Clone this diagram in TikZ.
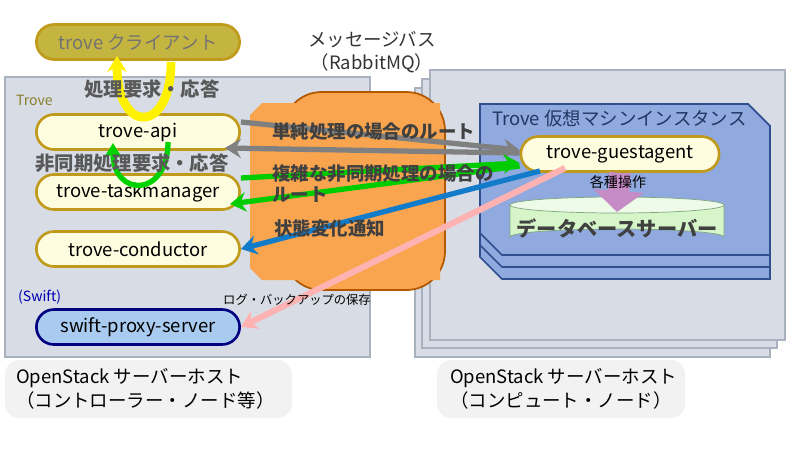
\documentclass[tikz,border=0pt]{standalone}
\usepackage{fontspec}
\setmainfont{Noto Sans CJK JP}
\usetikzlibrary{shapes.misc, arrows.meta, calc}
\definecolor{hostgray}{HTML}{D7DCE5}
\definecolor{hostline}{HTML}{A9B1BF}
\definecolor{procfill}{HTML}{FEFDE0}
\definecolor{procline}{HTML}{C09A1A}
\definecolor{olive}{HTML}{C4B440}
\definecolor{busorange}{HTML}{F9A54F}
\definecolor{vmblue}{HTML}{90AADF}
\definecolor{vmline}{HTML}{2F4F8F}
\definecolor{dbgreen}{HTML}{D6F5C8}
\definecolor{swiftblue}{HTML}{A9CBF0}
\tikzset{
  proc/.style={rounded rectangle, draw=procline, line width=1.5pt, fill=procfill,
    minimum width=4.3cm, minimum height=0.7cm, font=\fontsize{10.5}{12}\selectfont, text=black},
  route/.style={font=\bfseries\fontsize{10.5}{12}\selectfont, text=black!75, anchor=west},
  flow/.style={line width=3pt, -{Stealth[length=9pt,width=11pt]}},
  host/.style={fill=hostgray, draw=hostline, line width=1pt},
  vm/.style={fill=vmblue, draw=vmline, line width=1pt},
}
\begin{document}
\begin{tikzpicture}[x=0.02cm, y=-0.02cm]
    \useasboundingbox (0,0) rectangle (800,450);
    % host boxes
    \draw[host] (5,77) rectangle (370,357);
    \draw[host] (415,88) rectangle (770,357);
    \draw[host] (422,79) rectangle (777,348);
    \draw[host] (430,70) rectangle (785,340);
    % message bus
    \fill[busorange, draw=orange!70!black, line width=1pt, rounded corners=22pt]
        (283,92) rectangle (445,290);
    \fill[busorange] (250,115) -- (262,103) -- (440,103) -- (440,280) -- (262,280) -- (250,268) -- cycle;
    \node[align=center, font=\fontsize{10.5}{13}\selectfont, text=black!80] (bus) at (372,52) {メッセージバス\\（RabbitMQ）};
    % vm instance (stacked)
    \foreach \d in {24,12,0} {
        \draw[vm] (480,104+\d) -- (748,104+\d) -- (770,126+\d) -- (770,255+\d) -- (502,255+\d) -- (480,233+\d) -- cycle;
    }
    \node[anchor=west, font=\fontsize{10.5}{12}\selectfont, text=vmline!70!black] at (486,119) {Trove 仮想マシンインスタンス};
    % labels
    \node[anchor=west, font=\fontsize{8}{10}\selectfont, text=olive!70!black] at (10,100) {Trove};
    \node[anchor=west, font=\fontsize{8}{10}\selectfont, text=blue!70!black] at (12,297) {(Swift)};
    % processes
    \node[proc, fill=olive, text=black!55] (client) at (138,42) {trove クライアント};
    \node[proc] (api) at (138,132) {trove-api};
    \node[proc] (task) at (138,192) {trove-taskmanager};
    \node[proc] (cond) at (138,249) {trove-conductor};
    \node[proc, fill=swiftblue, draw=blue!50!black] (swift) at (138,327) {swift-proxy-server};
    \node[proc, minimum width=4.2cm] (agent) at (620,154) {trove-guestagent};
    % database
    \draw[green!30!black!50, fill=dbgreen] (510,205) -- (510,237) arc[start angle=180, end angle=360, x radius=107, y radius=8]
        -- (724,205) -- cycle;
    \draw[green!30!black!50, fill=dbgreen!40!white] (617,205) ellipse[x radius=107, y radius=8];
    \node[font=\bfseries\fontsize{11.5}{14}\selectfont, text=black!75] (db) at (617,229) {データベースサーバー};
    % purple arrow
    \coordinate (opsend) at (617,212);
    \draw[-{Triangle[length=12pt,width=28pt]}, line width=12pt, violet!45] (agent.south) -- (opsend);
    \node[font=\fontsize{8}{10}\selectfont] at (618,182) {各種操作};
    % client requests
    \coordinate (reqtail) at (171,62);
    \coordinate (reqhead) at (117,56);
    \coordinate (asynctail) at (168,142);
    \coordinate (asynchead) at (113,143);
    \draw[flow, yellow, line width=5pt] (reqtail) .. controls (171,135) and (117,135) .. (reqhead);
    \draw[flow, green!75!black!70!green] (asynctail) .. controls (168,198) and (113,198) .. (asynchead);
    \node[font=\bfseries\fontsize{11}{13}\selectfont, text=black!65] at (152,89) {処理要求・応答};
    \node[font=\bfseries\fontsize{11}{13}\selectfont, text=black!65] at (132,163) {非同期処理要求・応答};
    % routes
    \draw[flow, gray] (api.east |- 0,122) -- (agent.west |- 0,150);
    \draw[flow, gray] (agent.west |- 0,153) -- (225,148);
    \draw[flow, green!80!black] (task.east |- 0,178) -- (agent.west |- 0,163);
    \draw[flow, green!80!black] (agent.west |- 0,166) -- (230,204);
    \draw[flow, cyan!60!blue] (540,171) -- (cond.east);
    \draw[flow, red!30, line width=3.5pt] (565,168) -- (swift.east);
    \node[route] at (266,132) {単純処理の場合のルート};
    \node[route, align=left] at (266,184) {複雑な非同期処理の場合の\\ルート};
    \node[route] at (268,228) {状態変化通知};
    \node[font=\fontsize{7}{9}\selectfont] at (297,300) {ログ・バックアップの保存};
    % host captions
    \fill[black!5, rounded corners=8pt] (5,360) rectangle (292,418);
    \fill[black!5, rounded corners=8pt] (437,360) rectangle (685,418);
    \node[align=left, anchor=west, font=\fontsize{10.5}{14}\selectfont] at (10,389) {OpenStack サーバーホスト\\（コントローラー・ノード等）};
    \node[align=left, anchor=west, font=\fontsize{10.5}{14}\selectfont] at (444,389) {OpenStack サーバーホスト\\（コンピュート・ノード）};
\end{tikzpicture}
\end{document}
